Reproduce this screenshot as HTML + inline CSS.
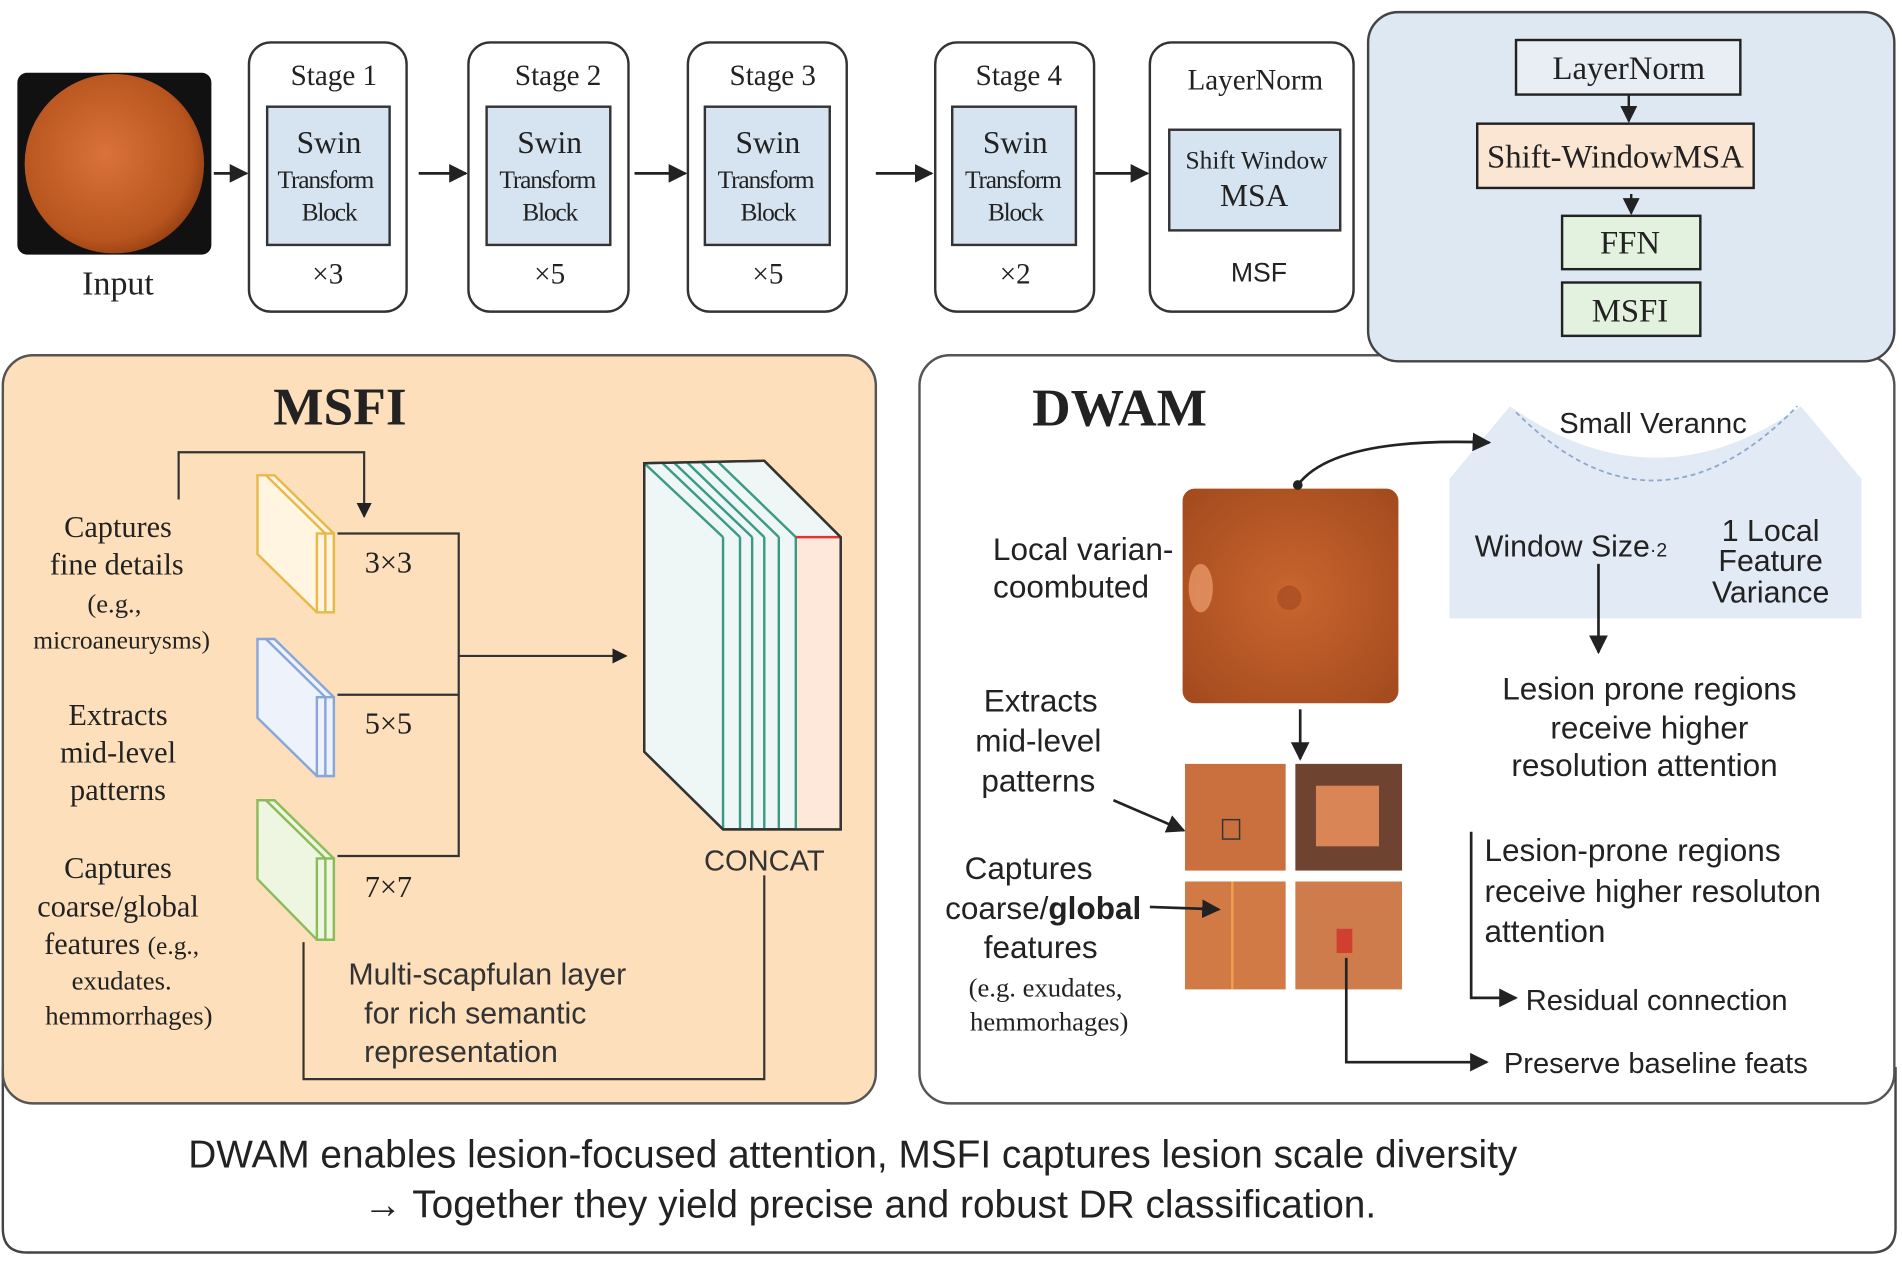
<!DOCTYPE html>
<html><head><meta charset="utf-8"><style>html,body{margin:0;padding:0;background:#fff}svg{display:block}</style></head><body>
<svg width="1902" height="1261" viewBox="0 0 1568 1040" xmlns="http://www.w3.org/2000/svg">
<defs>
<marker id="a" viewBox="0 0 10 10" refX="9" refY="5" markerWidth="7" markerHeight="7" orient="auto-start-reverse"><path d="M0,0L10,5L0,10z" fill="#222"/></marker>
<radialGradient id="eye" cx="0.45" cy="0.45" r="0.6"><stop offset="0" stop-color="#d9733a"/><stop offset="0.8" stop-color="#b8541e"/><stop offset="1" stop-color="#8f3c12"/></radialGradient>
<radialGradient id="eye2" cx="0.5" cy="0.5" r="0.7"><stop offset="0" stop-color="#c9652f"/><stop offset="1" stop-color="#a24a1d"/></radialGradient>
</defs>
<g font-family="Liberation Serif, serif" fill="#222">
<path d="M2,880 L2,1013 Q2,1033 22,1033 L1543,1033 Q1563,1033 1563,1013 L1563,880" fill="none" stroke="#444" stroke-width="2"/>
<rect x="14" y="60" width="160" height="150" rx="8" fill="#111"/>
<circle cx="94" cy="135" r="74" fill="url(#eye)"/>
<text x="97" y="243" font-size="28" text-anchor="middle">Input</text>
<g stroke="#333" stroke-width="2">
<rect x="205" y="35" width="130" height="222" rx="18" fill="#fff"/>
<rect x="386" y="35" width="132" height="222" rx="18" fill="#fff"/>
<rect x="567" y="35" width="131" height="222" rx="18" fill="#fff"/>
<rect x="771" y="35" width="131" height="222" rx="18" fill="#fff"/>
<rect x="948" y="35" width="168" height="222" rx="18" fill="#fff"/>
<rect x="220" y="88" width="101" height="114" fill="#d6e4f1"/>
<rect x="401" y="88" width="102" height="114" fill="#d6e4f1"/>
<rect x="581" y="88" width="103" height="114" fill="#d6e4f1"/>
<rect x="785" y="88" width="102" height="114" fill="#d6e4f1"/>
<rect x="964" y="107" width="141" height="83" fill="#d6e4f1"/>
</g>
<g font-size="24" text-anchor="middle">
<text x="275" y="70">Stage 1</text><text x="460" y="70">Stage 2</text><text x="637" y="70">Stage 3</text><text x="840" y="70">Stage 4</text>
<text x="1035" y="74">LayerNorm</text>
<g font-size="26"><text x="271" y="126">Swin</text><text x="453" y="126">Swin</text><text x="633" y="126">Swin</text><text x="837" y="126">Swin</text></g>
<g font-size="21" letter-spacing="-1"><text x="268" y="155">Transform</text><text x="451" y="155">Transform</text><text x="631" y="155">Transform</text><text x="835" y="155">Transform</text>
<text x="271" y="182">Block</text><text x="453" y="182">Block</text><text x="633" y="182">Block</text><text x="837" y="182">Block</text></g>
<text x="270" y="234">×3</text><text x="453" y="234">×5</text><text x="633" y="234">×5</text><text x="837" y="234">×2</text>
<text x="1036" y="139" font-size="21">Shift Window</text><text x="1034" y="170" font-size="26">MSA</text>
<text x="1038" y="232" font-family="Liberation Sans, sans-serif" font-size="22">MSF</text>
</g>
<g stroke="#222" stroke-width="2.2" marker-end="url(#a)">
<line x1="176" y1="143" x2="203" y2="143"/><line x1="345" y1="143" x2="384" y2="143"/><line x1="523" y1="143" x2="565" y2="143"/><line x1="722" y1="143" x2="768" y2="143"/><line x1="903" y1="143" x2="946" y2="143"/>
</g>
<rect x="2" y="293" width="720" height="617" rx="25" fill="#fde0bb" stroke="#555" stroke-width="2"/>
<text x="280" y="350" font-size="44" font-weight="bold" text-anchor="middle">MSFI</text>
<g font-size="25" text-anchor="middle">
<text x="97" y="443">Captures</text><text x="96" y="474">fine details</text><text x="94" y="505" font-size="22">(e.g.,</text><text x="100" y="535" font-size="21">microaneurysms)</text>
<text x="97" y="598">Extracts</text><text x="97" y="629">mid-level</text><text x="97" y="660">patterns</text>
<text x="97" y="724">Captures</text><text x="97" y="756">coarse/global</text><text x="100" y="787">features <tspan font-size="21">(e.g.,</tspan></text><text x="100" y="816" font-size="22">exudates.</text><text x="106" y="845" font-size="22">hemmorrhages)</text>
<text x="320" y="472">3×3</text><text x="320" y="605">5×5</text><text x="320" y="740">7×7</text>
</g>
<g stroke-width="2">
<g stroke="#e8b84a" fill="#fff5e0"><polygon points="212,392 226,392 275,440 275,505 261,505 212,457"/><rect x="261" y="440" width="14" height="65"/><line x1="219" y1="392" x2="268" y2="440"/><line x1="268" y1="440" x2="268" y2="505"/></g>
<g stroke="#8aa6d8" fill="#eef2fb"><polygon points="212,527 226,527 275,575 275,640 261,640 212,592"/><rect x="261" y="575" width="14" height="65"/><line x1="219" y1="527" x2="268" y2="575"/><line x1="268" y1="575" x2="268" y2="640"/></g>
<g stroke="#8cbc5a" fill="#eef6e2"><polygon points="212,660 226,660 275,708 275,775 261,775 212,725"/><rect x="261" y="708" width="14" height="67"/><line x1="219" y1="660" x2="268" y2="708"/><line x1="268" y1="708" x2="268" y2="775"/></g>
</g>
<g stroke="#333" stroke-width="1.8" fill="none">
<polyline points="278,440 378,440 378,706 278,706"/><line x1="278" y1="573" x2="378" y2="573"/>
<line x1="378" y1="541" x2="516" y2="541" marker-end="url(#a)"/>
<polyline points="147,412 147,373 300,373 300,426" marker-end="url(#a)"/>
<polyline points="630,722 630,890 250,890 250,777"/>
</g>
<g stroke-width="2">
<polygon points="531,382 630,380 693,443 693,684 596,684 531,620" fill="#eef7f5" stroke="#333"/>
<rect x="656" y="443" width="37" height="241" fill="#fde8da" stroke="none"/>
<g stroke="#3a9a86"><line x1="596" y1="443" x2="596" y2="684"/><line x1="610" y1="443" x2="610" y2="684"/><line x1="620" y1="443" x2="620" y2="684"/><line x1="630" y1="443" x2="630" y2="684"/><line x1="642" y1="443" x2="642" y2="684"/><line x1="656" y1="443" x2="656" y2="684"/>
<line x1="531" y1="382" x2="596" y2="443"/><line x1="545" y1="381" x2="610" y2="443"/><line x1="555" y1="381" x2="620" y2="443"/><line x1="566" y1="381" x2="630" y2="443"/><line x1="578" y1="381" x2="642" y2="443"/><line x1="592" y1="381" x2="656" y2="443"/></g>
<line x1="656" y1="443" x2="693" y2="443" stroke="#d33"/>
<polygon points="531,382 630,380 693,443 693,684 596,684 531,620" fill="none" stroke="#333"/>
<line x1="531" y1="382" x2="531" y2="620" stroke="#333"/>
</g>
<g font-family="Liberation Sans, sans-serif" fill="#333" font-size="25">
<text x="630" y="718" text-anchor="middle" font-size="24">CONCAT</text>
<text x="287" y="812">Multi-scapfulan layer</text><text x="300" y="844">for rich semantic</text><text x="300" y="876">representation</text>
</g>
<rect x="758" y="293" width="804" height="617" rx="25" fill="#fff" stroke="#555" stroke-width="2"/>
<rect x="1128" y="10" width="434" height="288" rx="25" fill="#dde8f3" stroke="#444" stroke-width="2"/>
<g stroke="#222" stroke-width="2">
<rect x="1250" y="33" width="185" height="45" fill="#e9eef4"/>
<rect x="1218" y="102" width="228" height="53" fill="#fbe6d4"/>
<rect x="1288" y="178" width="114" height="44" fill="#e3f1df"/>
<rect x="1288" y="233" width="114" height="44" fill="#e3f1df"/>
<line x1="1343" y1="78" x2="1343" y2="100" marker-end="url(#a)"/>
<line x1="1345" y1="160" x2="1345" y2="176" marker-end="url(#a)"/>
</g>
<g font-size="27" text-anchor="middle"><text x="1343" y="65">LayerNorm</text><text x="1332" y="138">Shift-WindowMSA</text><text x="1344" y="209">FFN</text><text x="1344" y="265">MSFI</text></g>
<text x="923" y="351" font-size="44" font-weight="bold" text-anchor="middle">DWAM</text>
<path d="M1195,510 L1195,395 L1245,335 Q1365,420 1485,335 L1535,395 L1535,510 Z" fill="#e2ebf5"/>
<path d="M1250,340 Q1365,455 1482,335" fill="none" stroke="#8fa8cc" stroke-width="1.5" stroke-dasharray="4,3"/>
<rect x="975" y="403" width="178" height="177" rx="10" fill="url(#eye2)"/>
<ellipse cx="990" cy="485" rx="10" ry="20" fill="#f0a070" opacity="0.7"/>
<circle cx="1063" cy="493" r="10" fill="#8a3a14" opacity="0.4"/>
<g>
<rect x="977" y="630" width="83" height="88" fill="#c9703e"/>
<rect x="1068" y="630" width="88" height="88" fill="#6e4430"/>
<rect x="1085" y="648" width="52" height="50" fill="#d98556"/>
<rect x="977" y="727" width="83" height="89" fill="#d27a45"/>
<rect x="1068" y="727" width="88" height="89" fill="#cf7c4c"/>
<rect x="1008" y="676" width="14" height="16" fill="none" stroke="#333" stroke-width="1.2"/>
<rect x="1102" y="766" width="13" height="20" fill="#d04030"/>
<line x1="1016" y1="727" x2="1016" y2="816" stroke="#f0a050" stroke-width="2"/>
</g>
<g stroke="#222" stroke-width="2.2" fill="none">
<path d="M1070,400 Q1100,360 1228,365" marker-end="url(#a)"/>
<line x1="1318" y1="465" x2="1318" y2="538" marker-end="url(#a)"/>
<line x1="1072" y1="585" x2="1072" y2="626" marker-end="url(#a)"/>
<line x1="918" y1="660" x2="976" y2="685" marker-end="url(#a)"/>
<line x1="948" y1="748" x2="1005" y2="750" marker-end="url(#a)"/>
<polyline points="1110,790 1110,876 1226,876" marker-end="url(#a)"/>
<polyline points="1213,686 1213,823 1250,823" marker-end="url(#a)"/>
</g>
<circle cx="1070" cy="400" r="4" fill="#222"/>
<g font-family="Liberation Sans, sans-serif" fill="#222" font-size="25">
<text x="1363" y="357" text-anchor="middle" font-size="24">Small Verannc</text>
<text x="1216" y="459">Window Size<tspan font-size="16">·2</tspan></text>
<text x="1460" y="446" text-anchor="middle">1 Local</text><text x="1460" y="471" text-anchor="middle">Feature</text><text x="1460" y="497" text-anchor="middle">Variance</text>
<g text-anchor="middle" font-size="26"><text x="1360" y="577">Lesion prone regions</text><text x="1360" y="609">receive higher</text><text x="1356" y="640">resolution attention</text>
<text x="893" y="462">Local varian-</text><text x="883" y="493">coombuted</text>
<text x="858" y="587">Extracts</text><text x="856" y="620">mid-level</text><text x="856" y="653">patterns</text>
<text x="848" y="725">Captures</text><text x="860" y="758">coarse/<tspan font-weight="bold">global</tspan></text><text x="858" y="790">features</text></g>
<text x="1224" y="710" font-size="26">Lesion-prone regions</text><text x="1224" y="744" font-size="26">receive higher resoluton</text><text x="1224" y="777" font-size="26">attention</text>
<text x="1258" y="833" font-size="24">Residual connection</text>
<text x="1240" y="885" font-size="24">Preserve baseline feats</text>
</g>
<text x="862" y="822" font-size="22" text-anchor="middle">(e.g. exudates,</text><text x="865" y="850" font-size="22" text-anchor="middle">hemmorhages)</text>
<g font-family="Liberation Sans, sans-serif" font-size="32" fill="#222" text-anchor="middle">
<text x="703" y="963">DWAM enables lesion-focused attention, MSFI captures lesion scale diversity</text>
<text x="717" y="1004">→ Together they yield precise and robust DR classification.</text>
</g>
</g>
</svg>
</body></html>
